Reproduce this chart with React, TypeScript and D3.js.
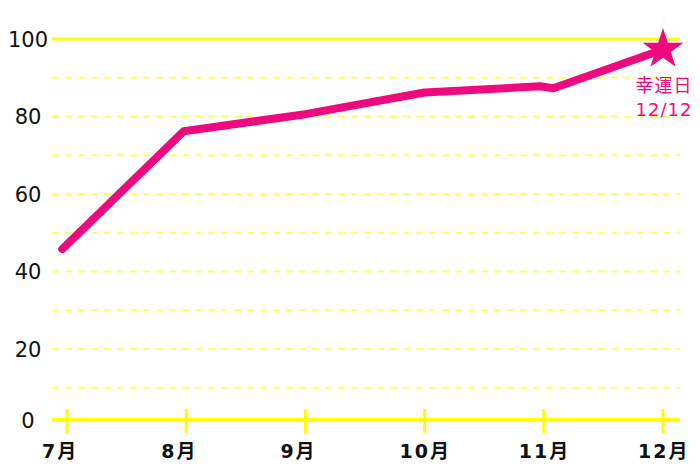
import React from "react"
import * as d3 from "d3"

const months = [7, 8, 9, 10, 11, 12]
const monthLabels = ["7月", "8月", "9月", "10月", "11月", "12月"]
const yTicks = [0, 20, 40, 60, 80, 100]
const gridValues = [10, 20, 30, 40, 50, 60, 70, 80, 90]

// line points: month position, value
const lineMonths = [6.96, 7.98, 9, 10, 10.97, 11.08, 12]
const lineValues = [45.8, 76.2, 80.6, 86.2, 87.8, 87.3, 97.3]

const starLabel = ["幸運日", "12/12"]

const W = 700
const H = 467
const PINK = "#ee0a7e"
const YELLOW = "#ffff00"
const FONT = "'DejaVu Sans', 'Noto Sans CJK JP', sans-serif"

const App = () => {
    const x = d3.scaleLinear().domain([7, 12]).range([67, 663])
    const y = d3.scaleLinear().domain([0, 100]).range([426.5, 39])
    const axisY = 420
    const left = 52
    const right = 680

    const pts: Array<[number, number]> = lineMonths.map((m, i) => [m, lineValues[i]])
    const line = d3.line<[number, number]>()
        .x(d => x(d[0]))
        .y(d => y(d[1]))

    const starR = 21.5
    const star = d3.symbol().type(d3.symbolStar).size(starR * starR / 0.8908130915292852)()
    const last = pts[pts.length - 1]

    return (
        <svg width={W} height={H} style={{position: "absolute", left: 0, top: 0}}
             fontFamily={FONT}>
            {/* dashed grid */}
            {gridValues.map(v => (
                <line key={v} x1={left} x2={right} y1={y(v)} y2={y(v)}
                      stroke="#ffff66" strokeWidth={2} strokeDasharray="7 6"/>
            ))}
            <line x1={left} x2={right} y1={y(100)} y2={y(100)} stroke={YELLOW} strokeWidth={3}/>

            {/* x axis */}
            <line x1={left} x2={right} y1={axisY} y2={axisY} stroke={YELLOW} strokeWidth={4}/>
            {months.map((m, i) => (
                <g key={m}>
                    <line x1={x(m)} x2={x(m)} y1={409} y2={433} stroke={YELLOW} strokeWidth={3}/>
                    <text x={x(m) - 25} y={458} fontSize={19} fontWeight="bold"
                          letterSpacing={2} fill="#111">{monthLabels[i]}</text>
                </g>
            ))}

            {/* y labels */}
            {yTicks.map(v => (
                <text key={v} x={28} y={v === 0 ? axisY : y(v)} dy="0.36em" textAnchor="middle"
                      fontSize={21} fill="#111">{v}</text>
            ))}

            {/* series */}
            <path d={line(pts) || ""} fill="none" stroke={PINK} strokeWidth={8}
                  strokeLinecap="round" strokeLinejoin="round"/>
            <path d={star || ""} transform={`translate(${x(last[0])},${y(last[1])})`} fill={PINK}/>
            {starLabel.map((t, i) => (
                <text key={t} x={x(last[0]) + 1} y={92 + i * 24} textAnchor="middle"
                      fontSize={18} letterSpacing={1} fill={PINK}>{t}</text>
            ))}
        </svg>
    )
}

export default App
